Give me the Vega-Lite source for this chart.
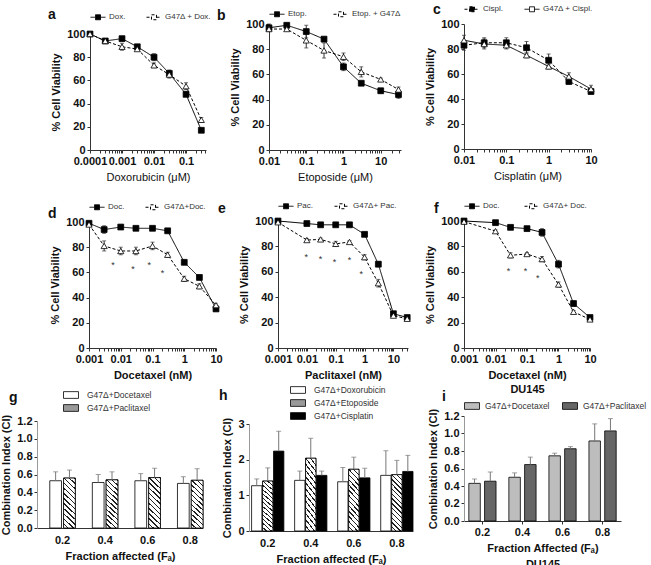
{
"$schema": "https://vega.github.io/schema/vega-lite/v6.json",
"padding": {"left": 0, "top": 0, "right": 0, "bottom": 0},
"config": {
  "font": "Liberation Sans",
  "view": {"stroke": "transparent"},
  "axis": {"grid": false, "labelFontSize": 11, "labelFontWeight": "bold", "labelColor": "#111", "titleFontSize": 11, "titleFontWeight": "bold", "titleColor": "#111", "tickSize": 3, "tickColor": "#333", "domainColor": "#333", "labelPadding": 2, "titlePadding": 5},
  "legend": {"labelFontSize": 8, "labelColor": "#333", "padding": 0, "rowPadding": 0, "labelLimit": 200},
  "title": {"anchor": "start", "frame": "group", "fontSize": 14, "fontWeight": "bold", "color": "#111"}
},
"datasets": {
  "a": [
    {"s":"Dox.","x":0.0001,"y":100,"e":0},{"s":"Dox.","x":0.0003,"y":94,"e":0},{"s":"Dox.","x":0.001,"y":96,"e":1},{"s":"Dox.","x":0.003,"y":89,"e":1},{"s":"Dox.","x":0.01,"y":80,"e":3},{"s":"Dox.","x":0.03,"y":66,"e":3},{"s":"Dox.","x":0.1,"y":48,"e":2},{"s":"Dox.","x":0.3,"y":17,"e":1},
    {"s":"G47Δ + Dox.","x":0.0001,"y":100,"e":0},{"s":"G47Δ + Dox.","x":0.0003,"y":94,"e":0},{"s":"G47Δ + Dox.","x":0.001,"y":89,"e":3},{"s":"G47Δ + Dox.","x":0.003,"y":87,"e":1},{"s":"G47Δ + Dox.","x":0.01,"y":73,"e":2},{"s":"G47Δ + Dox.","x":0.03,"y":65,"e":3},{"s":"G47Δ + Dox.","x":0.1,"y":55,"e":3},{"s":"G47Δ + Dox.","x":0.3,"y":26,"e":2}
  ],
  "b": [
    {"s":"Etop.","x":0.01,"y":97,"e":3},{"s":"Etop.","x":0.03,"y":99,"e":1},{"s":"Etop.","x":0.1,"y":94,"e":5},{"s":"Etop.","x":0.3,"y":88,"e":1},{"s":"Etop.","x":1,"y":66,"e":3},{"s":"Etop.","x":3,"y":53,"e":1},{"s":"Etop.","x":10,"y":47,"e":2},{"s":"Etop.","x":30,"y":44,"e":3},
    {"s":"Etop. + G47Δ","x":0.01,"y":96,"e":2},{"s":"Etop. + G47Δ","x":0.03,"y":96,"e":1},{"s":"Etop. + G47Δ","x":0.1,"y":87,"e":6},{"s":"Etop. + G47Δ","x":0.3,"y":79,"e":6},{"s":"Etop. + G47Δ","x":1,"y":74,"e":3},{"s":"Etop. + G47Δ","x":3,"y":62,"e":4},{"s":"Etop. + G47Δ","x":10,"y":56,"e":1},{"s":"Etop. + G47Δ","x":30,"y":48,"e":2}
  ],
  "c": [
    {"s":"Cispl.","x":0.01,"y":83,"e":4},{"s":"Cispl.","x":0.03,"y":85,"e":4},{"s":"Cispl.","x":0.1,"y":85,"e":4},{"s":"Cispl.","x":0.3,"y":81,"e":5},{"s":"Cispl.","x":1,"y":71,"e":5},{"s":"Cispl.","x":3,"y":54,"e":2},{"s":"Cispl.","x":10,"y":46,"e":2},
    {"s":"G47Δ + Cispl.","x":0.01,"y":87,"e":4},{"s":"G47Δ + Cispl.","x":0.03,"y":84,"e":4},{"s":"G47Δ + Cispl.","x":0.1,"y":83,"e":3},{"s":"G47Δ + Cispl.","x":0.3,"y":75,"e":2},{"s":"G47Δ + Cispl.","x":1,"y":66,"e":2},{"s":"G47Δ + Cispl.","x":3,"y":58,"e":3},{"s":"G47Δ + Cispl.","x":10,"y":48,"e":3}
  ],
  "d": [
    {"s":"Doc.","x":0.001,"y":99,"e":1},{"s":"Doc.","x":0.003,"y":94,"e":3},{"s":"Doc.","x":0.01,"y":96,"e":1},{"s":"Doc.","x":0.03,"y":95,"e":1},{"s":"Doc.","x":0.1,"y":95,"e":1},{"s":"Doc.","x":0.3,"y":93,"e":1},{"s":"Doc.","x":1,"y":68,"e":1},{"s":"Doc.","x":3,"y":56,"e":1},{"s":"Doc.","x":10,"y":31,"e":1},
    {"s":"G47Δ+Doc.","x":0.001,"y":98,"e":1},{"s":"G47Δ+Doc.","x":0.003,"y":81,"e":4},{"s":"G47Δ+Doc.","x":0.01,"y":77,"e":3},{"s":"G47Δ+Doc.","x":0.03,"y":77,"e":3},{"s":"G47Δ+Doc.","x":0.1,"y":81,"e":3},{"s":"G47Δ+Doc.","x":0.3,"y":74,"e":2},{"s":"G47Δ+Doc.","x":1,"y":55,"e":2},{"s":"G47Δ+Doc.","x":3,"y":49,"e":2},{"s":"G47Δ+Doc.","x":10,"y":34,"e":1}
  ],
  "dstar": [{"x":0.0057,"y":66},{"x":0.0245,"y":63},{"x":0.0785,"y":66},{"x":0.207,"y":59.5}],
  "e": [
    {"s":"Pac.","x":0.001,"y":100,"e":0},{"s":"Pac.","x":0.01,"y":98,"e":1},{"s":"Pac.","x":0.03,"y":97,"e":1},{"s":"Pac.","x":0.1,"y":97,"e":1},{"s":"Pac.","x":0.3,"y":97,"e":1},{"s":"Pac.","x":1,"y":89.5,"e":1},{"s":"Pac.","x":3,"y":66,"e":2},{"s":"Pac.","x":10,"y":27,"e":1},{"s":"Pac.","x":30,"y":24,"e":1},
    {"s":"G47Δ+ Pac.","x":0.001,"y":99,"e":0},{"s":"G47Δ+ Pac.","x":0.01,"y":85,"e":1},{"s":"G47Δ+ Pac.","x":0.03,"y":85.5,"e":1},{"s":"G47Δ+ Pac.","x":0.1,"y":82,"e":2},{"s":"G47Δ+ Pac.","x":0.3,"y":83.5,"e":1},{"s":"G47Δ+ Pac.","x":1,"y":71.5,"e":2},{"s":"G47Δ+ Pac.","x":3,"y":51,"e":3},{"s":"G47Δ+ Pac.","x":10,"y":25.5,"e":1},{"s":"G47Δ+ Pac.","x":30,"y":23,"e":1}
  ],
  "estar": [{"x":0.0095,"y":72},{"x":0.03,"y":70},{"x":0.091,"y":68},{"x":0.3,"y":69},{"x":0.76,"y":58}],
  "f": [
    {"s":"Doc.","x":0.001,"y":100,"e":0},{"s":"Doc.","x":0.01,"y":98.7,"e":1},{"s":"Doc.","x":0.03,"y":95,"e":1},{"s":"Doc.","x":0.1,"y":94,"e":1},{"s":"Doc.","x":0.3,"y":91,"e":3},{"s":"Doc.","x":1,"y":66,"e":3},{"s":"Doc.","x":3,"y":35,"e":2},{"s":"Doc.","x":10,"y":24,"e":1},
    {"s":"G47Δ+ Doc.","x":0.001,"y":99.5,"e":0},{"s":"G47Δ+ Doc.","x":0.01,"y":92,"e":1},{"s":"G47Δ+ Doc.","x":0.03,"y":73,"e":2},{"s":"G47Δ+ Doc.","x":0.1,"y":74,"e":1},{"s":"G47Δ+ Doc.","x":0.3,"y":70,"e":2},{"s":"G47Δ+ Doc.","x":1,"y":50,"e":2},{"s":"G47Δ+ Doc.","x":3,"y":28.5,"e":1},{"s":"G47Δ+ Doc.","x":10,"y":22.5,"e":1}
  ],
  "fstar": [{"x":0.026,"y":61},{"x":0.089,"y":61},{"x":0.22,"y":55}],
  "g": [
    {"f":"0.2","s":"G47Δ+Docetaxel","v":0.53,"u":0.63},{"f":"0.4","s":"G47Δ+Docetaxel","v":0.51,"u":0.6},{"f":"0.6","s":"G47Δ+Docetaxel","v":0.53,"u":0.61},{"f":"0.8","s":"G47Δ+Docetaxel","v":0.5,"u":0.575},
    {"f":"0.2","s":"G47Δ+Paclitaxel","v":0.56,"u":0.65},{"f":"0.4","s":"G47Δ+Paclitaxel","v":0.54,"u":0.63},{"f":"0.6","s":"G47Δ+Paclitaxel","v":0.565,"u":0.67},{"f":"0.8","s":"G47Δ+Paclitaxel","v":0.535,"u":0.665}
  ],
  "h": [
    {"f":"0.2","s":"G47Δ+Doxorubicin","v":1.27,"u":1.46},{"f":"0.4","s":"G47Δ+Doxorubicin","v":1.42,"u":1.68},{"f":"0.6","s":"G47Δ+Doxorubicin","v":1.38,"u":1.78},{"f":"0.8","s":"G47Δ+Doxorubicin","v":1.56,"u":2.25},
    {"f":"0.2","s":"G47Δ+Etoposide","v":1.4,"u":1.77},{"f":"0.4","s":"G47Δ+Etoposide","v":2.04,"u":2.6},{"f":"0.6","s":"G47Δ+Etoposide","v":1.73,"u":2.07},{"f":"0.8","s":"G47Δ+Etoposide","v":1.58,"u":1.98},
    {"f":"0.2","s":"G47Δ+Cisplatin","v":2.24,"u":2.8},{"f":"0.4","s":"G47Δ+Cisplatin","v":1.56,"u":1.68},{"f":"0.6","s":"G47Δ+Cisplatin","v":1.49,"u":1.76},{"f":"0.8","s":"G47Δ+Cisplatin","v":1.67,"u":2.12}
  ],
  "i": [
    {"f":"0.2","s":"G47Δ+Docetaxel","v":0.43,"u":0.48},{"f":"0.4","s":"G47Δ+Docetaxel","v":0.5,"u":0.55},{"f":"0.6","s":"G47Δ+Docetaxel","v":0.745,"u":0.775},{"f":"0.8","s":"G47Δ+Docetaxel","v":0.915,"u":1.11},
    {"f":"0.2","s":"G47Δ+Paclitaxel","v":0.455,"u":0.56},{"f":"0.4","s":"G47Δ+Paclitaxel","v":0.645,"u":0.73},{"f":"0.6","s":"G47Δ+Paclitaxel","v":0.826,"u":0.85},{"f":"0.8","s":"G47Δ+Paclitaxel","v":1.03,"u":1.17}
  ]
},
"spacing": -14,
"resolve": {"scale": {"strokeDash": "independent", "fill": "independent", "xOffset": "independent"}, "legend": {"strokeDash": "independent", "fill": "independent"}},
"vconcat": [
 {"bounds": "flush", "spacing": 0,
  "resolve": {"scale": {"strokeDash": "independent"}, "legend": {"strokeDash": "independent"}},
  "hconcat": [
  {"width": 53, "height": 1, "data": {"values": []}, "mark": {"type": "point", "opacity": 0}, "encoding": {}},
  {"title": {"text": "a", "offset": -13, "dx": -42},
   "width": 116, "height": 126, "data": {"name": "a"},
   "encoding": {
     "x": {"field": "x", "type": "quantitative", "scale": {"type": "log", "domain": [0.0001, 0.42], "nice": false},
       "axis": {"values": [0.0001,0.0002,0.0003,0.0004,0.0005,0.0006,0.0007,0.0008,0.0009,0.001,0.002,0.003,0.004,0.005,0.006,0.007,0.008,0.009,0.01,0.02,0.03,0.04,0.05,0.06,0.07,0.08,0.09,0.1,0.2,0.3,0.4], "format": "~g", "labelExpr": "indexof([0.0001,0.001,0.01,0.1,1,10], datum.value) >= 0 ? datum.label : ''", "labelOverlap": false, "labelFlush": false, "title": "Doxorubicin (μM)", "titleFontWeight": "normal"}},
     "y": {"field": "y", "type": "quantitative", "scale": {"domain": [0, 100], "nice": false, "range": [126, 10]}, "axis": {"values": [0,20,40,60,80,100], "title": "% Cell Viability"}}
   },
   "layer": [
     {"mark": {"type": "line", "color": "black", "strokeWidth": 1},
      "encoding": {"strokeDash": {"field": "s", "type": "nominal", "scale": {"domain": ["Dox.", "G47Δ + Dox."], "range": [[1, 0], [3, 2]]},
        "legend": {"orient": "top", "direction": "horizontal", "title": null, "offset": 2, "symbolType": "M-1,0H-0.33M0.33,0H1M-0.33,-0.33H0.33V0.33H-0.33Z", "symbolSize": 225, "symbolStrokeColor": "black", "symbolStrokeWidth": 1, "labelOffset": 3, "columnPadding": 18,
          "encode": {"symbols": {"update": {"fill": {"signal": "datum.index === 0 ? 'black' : 'white'"}, "stroke": {"value": "black"}, "strokeWidth": {"value": 1}, "strokeDash": {"signal": "datum.index === 0 ? [1, 0] : [2, 1.5]"}, "opacity": {"value": 1}}}}}}}},
     {"transform": [{"filter": "datum.e > 0"}], "mark": {"type": "errorbar", "color": "#333", "ticks": {"size": 4}}, "encoding": {"yError": {"field": "e"}}},
     {"transform": [{"filter": {"field": "s", "equal": "Dox."}}], "mark": {"type": "point", "shape": "square", "filled": true, "fill": "black", "stroke": "black", "strokeWidth": 0.8, "opacity": 1, "size": 34}},
     {"transform": [{"filter": {"field": "s", "equal": "G47Δ + Dox."}}], "mark": {"type": "point", "shape": "triangle-up", "filled": true, "fill": "white", "stroke": "black", "strokeWidth": 0.8, "opacity": 1, "size": 38}}
   ]},
  {"width": 63, "height": 1, "data": {"values": []}, "mark": {"type": "point", "opacity": 0}, "encoding": {}},
  {"title": {"text": "b", "offset": -17, "dx": -52},
   "width": 132, "height": 126, "data": {"name": "b"},
   "encoding": {
     "x": {"field": "x", "type": "quantitative", "scale": {"type": "log", "domain": [0.01, 35], "nice": false},
       "axis": {"values": [0.01,0.02,0.03,0.04,0.05,0.06,0.07,0.08,0.09,0.1,0.2,0.3,0.4,0.5,0.6,0.7,0.8,0.9,1,2,3,4,5,6,7,8,9,10,20,30], "format": "~g", "labelExpr": "indexof([0.0001,0.001,0.01,0.1,1,10], datum.value) >= 0 ? datum.label : ''", "labelOverlap": false, "labelFlush": false, "title": "Etoposide (μM)", "titleFontWeight": "normal"}},
     "y": {"field": "y", "type": "quantitative", "scale": {"domain": [0, 100], "nice": false}, "axis": {"values": [0,20,40,60,80,100], "title": "% Cell Viability"}}
   },
   "layer": [
     {"mark": {"type": "line", "color": "black", "strokeWidth": 1},
      "encoding": {"strokeDash": {"field": "s", "type": "nominal", "scale": {"domain": ["Etop.", "Etop. + G47Δ"], "range": [[1, 0], [3, 2]]},
        "legend": {"orient": "top", "direction": "horizontal", "title": null, "offset": 4, "symbolType": "M-1,0H-0.33M0.33,0H1M-0.33,-0.33H0.33V0.33H-0.33Z", "symbolSize": 225, "symbolStrokeColor": "black", "symbolStrokeWidth": 1, "labelOffset": 3, "columnPadding": 24,
          "encode": {"symbols": {"update": {"fill": {"signal": "datum.index === 0 ? 'black' : 'white'"}, "stroke": {"value": "black"}, "strokeWidth": {"value": 1}, "strokeDash": {"signal": "datum.index === 0 ? [1, 0] : [2, 1.5]"}, "opacity": {"value": 1}}}}}}}},
     {"transform": [{"filter": "datum.e > 0"}], "mark": {"type": "errorbar", "color": "#333", "ticks": {"size": 4}}, "encoding": {"yError": {"field": "e"}}},
     {"transform": [{"filter": {"field": "s", "equal": "Etop."}}], "mark": {"type": "point", "shape": "square", "filled": true, "fill": "black", "stroke": "black", "strokeWidth": 0.8, "opacity": 1, "size": 34}},
     {"transform": [{"filter": {"field": "s", "equal": "Etop. + G47Δ"}}], "mark": {"type": "point", "shape": "triangle-up", "filled": true, "fill": "white", "stroke": "black", "strokeWidth": 0.8, "opacity": 1, "size": 38}}
   ]},
  {"width": 63, "height": 1, "data": {"values": []}, "mark": {"type": "point", "opacity": 0}, "encoding": {}},
  {"title": {"text": "c", "offset": -16, "dx": -31},
   "width": 127, "height": 125, "data": {"name": "c"},
   "encoding": {
     "x": {"field": "x", "type": "quantitative", "scale": {"type": "log", "domain": [0.01, 10], "nice": false},
       "axis": {"values": [0.01,0.02,0.03,0.04,0.05,0.06,0.07,0.08,0.09,0.1,0.2,0.3,0.4,0.5,0.6,0.7,0.8,0.9,1,2,3,4,5,6,7,8,9,10], "format": "~g", "labelExpr": "indexof([0.0001,0.001,0.01,0.1,1,10], datum.value) >= 0 ? datum.label : ''", "labelOverlap": false, "labelFlush": false, "title": "Cisplatin (μM)", "titleFontWeight": "normal"}},
     "y": {"field": "y", "type": "quantitative", "scale": {"domain": [0, 100], "nice": false}, "axis": {"values": [0,20,40,60,80,100], "title": "% Cell Viability"}}
   },
   "layer": [
     {"mark": {"type": "line", "color": "black", "strokeWidth": 1},
      "encoding": {"strokeDash": {"field": "s", "type": "nominal", "scale": {"domain": ["Cispl.", "G47Δ + Cispl."], "range": [[3, 2], [1, 0]]},
        "legend": {"orient": "top", "direction": "horizontal", "title": null, "offset": 10, "symbolType": "M-1,0H-0.33M0.33,0H1M-0.33,-0.33H0.33V0.33H-0.33Z", "symbolSize": 225, "symbolStrokeColor": "black", "symbolStrokeWidth": 1, "labelOffset": 3, "columnPadding": 18,
          "encode": {"symbols": {"update": {"fill": {"signal": "datum.index === 0 ? 'black' : 'white'"}, "stroke": {"value": "black"}, "strokeWidth": {"value": 1}, "strokeDash": {"signal": "datum.index === 0 ? [2, 1.5] : [1, 0]"}, "opacity": {"value": 1}}}}}}}},
     {"transform": [{"filter": "datum.e > 0"}], "mark": {"type": "errorbar", "color": "#333", "ticks": {"size": 4}}, "encoding": {"yError": {"field": "e"}}},
     {"transform": [{"filter": {"field": "s", "equal": "Cispl."}}], "mark": {"type": "point", "shape": "square", "filled": true, "fill": "black", "stroke": "black", "strokeWidth": 0.8, "opacity": 1, "size": 34}},
     {"transform": [{"filter": {"field": "s", "equal": "G47Δ + Cispl."}}], "mark": {"type": "point", "shape": "triangle-up", "filled": true, "fill": "white", "stroke": "black", "strokeWidth": 0.8, "opacity": 1, "size": 38}}
   ]}
 ]},
 {"width": 1, "height": 28, "data": {"values": []}, "mark": {"type": "point", "opacity": 0}, "encoding": {}},
 {"bounds": "flush", "spacing": 0,
  "resolve": {"scale": {"strokeDash": "independent"}, "legend": {"strokeDash": "independent"}},
  "hconcat": [
  {"width": 52, "height": 1, "data": {"values": []}, "mark": {"type": "point", "opacity": 0}, "encoding": {}},
  {"title": {"text": "d", "offset": -22, "dx": -41},
   "width": 127, "height": 127, "data": {"name": "d"},
   "encoding": {
     "x": {"field": "x", "type": "quantitative", "scale": {"type": "log", "domain": [0.001, 10], "nice": false},
       "axis": {"values": [0.001,0.002,0.003,0.004,0.005,0.006,0.007,0.008,0.009,0.01,0.02,0.03,0.04,0.05,0.06,0.07,0.08,0.09,0.1,0.2,0.3,0.4,0.5,0.6,0.7,0.8,0.9,1,2,3,4,5,6,7,8,9,10], "format": "~g", "labelExpr": "indexof([0.0001,0.001,0.01,0.1,1,10], datum.value) >= 0 ? datum.label : ''", "labelOverlap": false, "labelFlush": false, "title": "Docetaxel (nM)"}},
     "y": {"field": "y", "type": "quantitative", "scale": {"domain": [0, 100], "nice": false, "range": [127, 1]}, "axis": {"values": [0,20,40,60,80,100], "title": "% Cell Viability"}}
   },
   "layer": [
     {"mark": {"type": "line", "color": "black", "strokeWidth": 1},
      "encoding": {"strokeDash": {"field": "s", "type": "nominal", "scale": {"domain": ["Doc.", "G47Δ+Doc."], "range": [[1, 0], [3, 2]]},
        "legend": {"orient": "top", "direction": "horizontal", "title": null, "offset": 9, "symbolType": "M-1,0H-0.33M0.33,0H1M-0.33,-0.33H0.33V0.33H-0.33Z", "symbolSize": 225, "symbolStrokeColor": "black", "symbolStrokeWidth": 1, "labelOffset": 3, "columnPadding": 18,
          "encode": {"symbols": {"update": {"fill": {"signal": "datum.index === 0 ? 'black' : 'white'"}, "stroke": {"value": "black"}, "strokeWidth": {"value": 1}, "strokeDash": {"signal": "datum.index === 0 ? [1, 0] : [2, 1.5]"}, "opacity": {"value": 1}}}}}}}},
     {"transform": [{"filter": "datum.e > 0"}], "mark": {"type": "errorbar", "color": "#333", "ticks": {"size": 4}}, "encoding": {"yError": {"field": "e"}}},
     {"transform": [{"filter": {"field": "s", "equal": "Doc."}}], "mark": {"type": "point", "shape": "square", "filled": true, "fill": "black", "stroke": "black", "strokeWidth": 0.8, "opacity": 1, "size": 34}},
     {"transform": [{"filter": {"field": "s", "equal": "G47Δ+Doc."}}], "mark": {"type": "point", "shape": "triangle-up", "filled": true, "fill": "white", "stroke": "black", "strokeWidth": 0.8, "opacity": 1, "size": 38}},
     {"data": {"name": "dstar"}, "mark": {"type": "text", "text": "*", "fontSize": 9, "color": "#333"}, "encoding": {}}
   ]},
  {"width": 62, "height": 1, "data": {"values": []}, "mark": {"type": "point", "opacity": 0}, "encoding": {}},
  {"title": {"text": "e", "offset": -18, "dx": -60},
   "width": 130, "height": 127, "data": {"name": "e"},
   "encoding": {
     "x": {"field": "x", "type": "quantitative", "scale": {"type": "log", "domain": [0.001, 32], "nice": false},
       "axis": {"values": [0.001,0.002,0.003,0.004,0.005,0.006,0.007,0.008,0.009,0.01,0.02,0.03,0.04,0.05,0.06,0.07,0.08,0.09,0.1,0.2,0.3,0.4,0.5,0.6,0.7,0.8,0.9,1,2,3,4,5,6,7,8,9,10,20,30], "format": "~g", "labelExpr": "indexof([0.0001,0.001,0.01,0.1,1,10], datum.value) >= 0 ? datum.label : ''", "labelOverlap": false, "labelFlush": false, "title": "Paclitaxel (nM)"}},
     "y": {"field": "y", "type": "quantitative", "scale": {"domain": [0, 100], "nice": false}, "axis": {"values": [0,20,40,60,80,100], "title": "% Cell Viability"}}
   },
   "layer": [
     {"mark": {"type": "line", "color": "black", "strokeWidth": 1},
      "encoding": {"strokeDash": {"field": "s", "type": "nominal", "scale": {"domain": ["Pac.", "G47Δ+ Pac."], "range": [[1, 0], [3, 2]]},
        "legend": {"orient": "top", "direction": "horizontal", "title": null, "offset": 8, "symbolType": "M-1,0H-0.33M0.33,0H1M-0.33,-0.33H0.33V0.33H-0.33Z", "symbolSize": 225, "symbolStrokeColor": "black", "symbolStrokeWidth": 1, "labelOffset": 3, "columnPadding": 18,
          "encode": {"symbols": {"update": {"fill": {"signal": "datum.index === 0 ? 'black' : 'white'"}, "stroke": {"value": "black"}, "strokeWidth": {"value": 1}, "strokeDash": {"signal": "datum.index === 0 ? [1, 0] : [2, 1.5]"}, "opacity": {"value": 1}}}}}}}},
     {"transform": [{"filter": "datum.e > 0"}], "mark": {"type": "errorbar", "color": "#333", "ticks": {"size": 4}}, "encoding": {"yError": {"field": "e"}}},
     {"transform": [{"filter": {"field": "s", "equal": "Pac."}}], "mark": {"type": "point", "shape": "square", "filled": true, "fill": "black", "stroke": "black", "strokeWidth": 0.8, "opacity": 1, "size": 34}},
     {"transform": [{"filter": {"field": "s", "equal": "G47Δ+ Pac."}}], "mark": {"type": "point", "shape": "triangle-up", "filled": true, "fill": "white", "stroke": "black", "strokeWidth": 0.8, "opacity": 1, "size": 38}},
     {"data": {"name": "estar"}, "mark": {"type": "text", "text": "*", "fontSize": 9, "color": "#333"}, "encoding": {}}
   ]},
  {"width": 56, "height": 1, "data": {"values": []}, "mark": {"type": "point", "opacity": 0}, "encoding": {}},
  {"title": {"text": "f", "offset": -18, "dx": -30},
   "width": 126, "height": 127, "data": {"name": "f"},
   "encoding": {
     "x": {"field": "x", "type": "quantitative", "scale": {"type": "log", "domain": [0.001, 10], "nice": false},
       "axis": {"values": [0.001,0.002,0.003,0.004,0.005,0.006,0.007,0.008,0.009,0.01,0.02,0.03,0.04,0.05,0.06,0.07,0.08,0.09,0.1,0.2,0.3,0.4,0.5,0.6,0.7,0.8,0.9,1,2,3,4,5,6,7,8,9,10], "format": "~g", "labelExpr": "indexof([0.0001,0.001,0.01,0.1,1,10], datum.value) >= 0 ? datum.label : ''", "labelOverlap": false, "labelFlush": false, "title": ["Docetaxel (nM)", "DU145"], "titleLineHeight": 14}},
     "y": {"field": "y", "type": "quantitative", "scale": {"domain": [0, 100], "nice": false}, "axis": {"values": [0,20,40,60,80,100], "title": "% Cell Viability"}}
   },
   "layer": [
     {"mark": {"type": "line", "color": "black", "strokeWidth": 1},
      "encoding": {"strokeDash": {"field": "s", "type": "nominal", "scale": {"domain": ["Doc.", "G47Δ+ Doc."], "range": [[1, 0], [3, 2]]},
        "legend": {"orient": "top", "direction": "horizontal", "title": null, "offset": 8, "symbolType": "M-1,0H-0.33M0.33,0H1M-0.33,-0.33H0.33V0.33H-0.33Z", "symbolSize": 225, "symbolStrokeColor": "black", "symbolStrokeWidth": 1, "labelOffset": 3, "columnPadding": 22,
          "encode": {"symbols": {"update": {"fill": {"signal": "datum.index === 0 ? 'black' : 'white'"}, "stroke": {"value": "black"}, "strokeWidth": {"value": 1}, "strokeDash": {"signal": "datum.index === 0 ? [1, 0] : [2, 1.5]"}, "opacity": {"value": 1}}}}}}}},
     {"transform": [{"filter": "datum.e > 0"}], "mark": {"type": "errorbar", "color": "#333", "ticks": {"size": 4}}, "encoding": {"yError": {"field": "e"}}},
     {"transform": [{"filter": {"field": "s", "equal": "Doc."}}], "mark": {"type": "point", "shape": "square", "filled": true, "fill": "black", "stroke": "black", "strokeWidth": 0.8, "opacity": 1, "size": 34}},
     {"transform": [{"filter": {"field": "s", "equal": "G47Δ+ Doc."}}], "mark": {"type": "point", "shape": "triangle-up", "filled": true, "fill": "white", "stroke": "black", "strokeWidth": 0.8, "opacity": 1, "size": 38}},
     {"data": {"name": "fstar"}, "mark": {"type": "text", "text": "*", "fontSize": 9, "color": "#333"}, "encoding": {}}
   ]}
 ]},
 {"bounds": "flush", "spacing": 0,
  "resolve": {"scale": {"fill": "independent", "xOffset": "independent"}, "legend": {"fill": "independent"}},
  "hconcat": [
  {"title": {"text": "g", "offset": -18, "dx": -28},
   "width": 166, "height": 112, "data": {"name": "g"},
   "encoding": {
     "x": {"field": "f", "type": "nominal", "scale": {"paddingInner": 0.4, "paddingOuter": 0.15, "align": 1}, "axis": {"title": "Fraction affected (Fₐ)", "labelAngle": 0, "ticks": false, "labelPadding": 6}},
     "xOffset": {"field": "s", "type": "nominal", "scale": {"domain": ["G47Δ+Docetaxel", "G47Δ+Paclitaxel"], "paddingInner": 0.15}}
   },
   "layer": [
     {"mark": {"type": "bar", "stroke": "black", "strokeWidth": 0.8},
      "encoding": {
        "y": {"field": "v", "type": "quantitative", "scale": {"domain": [0, 1.2], "nice": false, "range": [112, 5]}, "axis": {"values": [0,0.2,0.4,0.6,0.8,1,1.2], "format": ".1f", "title": "Combination Index (CI)", "domainColor": "#999"}},
        "fill": {"field": "s", "type": "nominal", "scale": {"domain": ["G47Δ+Docetaxel", "G47Δ+Paclitaxel"], "range": ["white", "#999"]},
          "legend": {"orient": "top", "direction": "vertical", "title": " ", "titleOrient": "left", "titlePadding": 26, "offset": 3, "symbolType": "M-1,-0.45H1V0.45H-1Z", "symbolSize": 225, "symbolStrokeColor": "black", "symbolStrokeWidth": 0.8, "labelFontSize": 8.5, "labelOffset": 8,
            "encode": {"symbols": {"update": {"stroke": {"value": "black"}, "strokeWidth": {"value": 0.8}, "opacity": {"value": 1}, "fill": {"signal": "datum.index === 1 ? {gradient: 'linear', x1: 0, y1: 1, x2: 1.2, y2: 0.44, stops: [{offset: 0, color: 'white'}, {offset: 0.14, color: 'white'}, {offset: 0.14, color: '#222'}, {offset: 0.2, color: '#222'}, {offset: 0.2, color: 'white'}, {offset: 0.34, color: 'white'}, {offset: 0.34, color: '#222'}, {offset: 0.4, color: '#222'}, {offset: 0.4, color: 'white'}, {offset: 0.54, color: 'white'}, {offset: 0.54, color: '#222'}, {offset: 0.6, color: '#222'}, {offset: 0.6, color: 'white'}, {offset: 0.74, color: 'white'}, {offset: 0.74, color: '#222'}, {offset: 0.8, color: '#222'}, {offset: 0.8, color: 'white'}, {offset: 0.94, color: 'white'}, {offset: 0.94, color: '#222'}, {offset: 1, color: '#222'}]} : 'white'"}}}}}}
      }},
     {"transform": [{"filter": {"field": "s", "equal": "G47Δ+Paclitaxel"}}],
      "mark": {"type": "bar", "stroke": "black", "strokeWidth": 0.8, "fill": {"gradient": "linear", "x1": 0, "y1": 1, "x2": 0.262, "y2": -0.166, "stops": [
        {"offset":0,"color":"white"},{"offset":0.06,"color":"white"},{"offset":0.06,"color":"#222"},{"offset":0.0833,"color":"#222"},
        {"offset":0.0833,"color":"white"},{"offset":0.1433,"color":"white"},{"offset":0.1433,"color":"#222"},{"offset":0.1667,"color":"#222"},
        {"offset":0.1667,"color":"white"},{"offset":0.2267,"color":"white"},{"offset":0.2267,"color":"#222"},{"offset":0.25,"color":"#222"},
        {"offset":0.25,"color":"white"},{"offset":0.31,"color":"white"},{"offset":0.31,"color":"#222"},{"offset":0.3333,"color":"#222"},
        {"offset":0.3333,"color":"white"},{"offset":0.3933,"color":"white"},{"offset":0.3933,"color":"#222"},{"offset":0.4167,"color":"#222"},
        {"offset":0.4167,"color":"white"},{"offset":0.4767,"color":"white"},{"offset":0.4767,"color":"#222"},{"offset":0.5,"color":"#222"},
        {"offset":0.5,"color":"white"},{"offset":0.56,"color":"white"},{"offset":0.56,"color":"#222"},{"offset":0.5833,"color":"#222"},
        {"offset":0.5833,"color":"white"},{"offset":0.6433,"color":"white"},{"offset":0.6433,"color":"#222"},{"offset":0.6667,"color":"#222"},
        {"offset":0.6667,"color":"white"},{"offset":0.7267,"color":"white"},{"offset":0.7267,"color":"#222"},{"offset":0.75,"color":"#222"},
        {"offset":0.75,"color":"white"},{"offset":0.81,"color":"white"},{"offset":0.81,"color":"#222"},{"offset":0.8333,"color":"#222"},
        {"offset":0.8333,"color":"white"},{"offset":0.8933,"color":"white"},{"offset":0.8933,"color":"#222"},{"offset":0.9167,"color":"#222"},
        {"offset":0.9167,"color":"white"},{"offset":0.9767,"color":"white"},{"offset":0.9767,"color":"#222"},{"offset":1,"color":"#222"}]}},
      "encoding": {"y": {"field": "v", "type": "quantitative", "scale": {"domain": [0, 1.2], "nice": false, "range": [112, 5]}, "axis": {"values": [0,0.2,0.4,0.6,0.8,1,1.2], "format": ".1f", "title": "Combination Index (CI)", "domainColor": "#999"}}}},
     {"mark": {"type": "rule", "color": "#777", "strokeWidth": 1},
      "encoding": {"y": {"field": "v", "type": "quantitative", "scale": {"domain": [0, 1.2], "nice": false, "range": [112, 5]}, "axis": {"values": [0,0.2,0.4,0.6,0.8,1,1.2], "format": ".1f", "title": "Combination Index (CI)", "domainColor": "#999"}}, "y2": {"field": "u"}}},
     {"mark": {"type": "tick", "color": "#777", "size": 5, "thickness": 1, "orient": "horizontal"},
      "encoding": {"y": {"field": "u", "type": "quantitative", "scale": {"domain": [0, 1.2], "nice": false, "range": [112, 5]}, "axis": {"values": [0,0.2,0.4,0.6,0.8,1,1.2], "format": ".1f", "title": "Combination Index (CI)", "domainColor": "#999"}}}}
   ]},
  {"width": 46, "height": 1, "data": {"values": []}, "mark": {"type": "point", "opacity": 0}, "encoding": {}},
  {"title": {"text": "h", "offset": -21, "dx": -30},
   "width": 164, "height": 115, "data": {"name": "h"},
   "encoding": {
     "x": {"field": "f", "type": "nominal", "scale": {"paddingInner": 0.25, "paddingOuter": 0.03, "align": 1}, "axis": {"title": "Fraction affected (Fₐ)", "labelAngle": 0, "ticks": false, "labelPadding": 6}},
     "xOffset": {"field": "s", "type": "nominal", "scale": {"domain": ["G47Δ+Doxorubicin", "G47Δ+Etoposide", "G47Δ+Cisplatin"], "paddingInner": 0.06}}
   },
   "layer": [
     {"mark": {"type": "bar", "stroke": "black", "strokeWidth": 0.8},
      "encoding": {
        "y": {"field": "v", "type": "quantitative", "scale": {"domain": [0, 3], "nice": false, "range": [115, 8]}, "axis": {"values": [0,1,2,3], "format": "d", "title": "Combination Index (CI)", "domainColor": "#999"}},
        "fill": {"field": "s", "type": "nominal", "scale": {"domain": ["G47Δ+Doxorubicin", "G47Δ+Etoposide", "G47Δ+Cisplatin"], "range": ["white", "#999", "black"]},
          "legend": {"orient": "top", "direction": "vertical", "title": " ", "titleOrient": "left", "titlePadding": 41, "offset": -5, "symbolType": "M-1,-0.45H1V0.45H-1Z", "symbolSize": 225, "symbolStrokeColor": "black", "symbolStrokeWidth": 0.8, "labelFontSize": 8.5, "labelOffset": 8,
            "encode": {"symbols": {"update": {"stroke": {"value": "black"}, "strokeWidth": {"value": 0.8}, "opacity": {"value": 1}, "fill": {"signal": "datum.index === 1 ? {gradient: 'linear', x1: 0, y1: 1, x2: 1.2, y2: 0.44, stops: [{offset: 0, color: 'white'}, {offset: 0.14, color: 'white'}, {offset: 0.14, color: '#222'}, {offset: 0.2, color: '#222'}, {offset: 0.2, color: 'white'}, {offset: 0.34, color: 'white'}, {offset: 0.34, color: '#222'}, {offset: 0.4, color: '#222'}, {offset: 0.4, color: 'white'}, {offset: 0.54, color: 'white'}, {offset: 0.54, color: '#222'}, {offset: 0.6, color: '#222'}, {offset: 0.6, color: 'white'}, {offset: 0.74, color: 'white'}, {offset: 0.74, color: '#222'}, {offset: 0.8, color: '#222'}, {offset: 0.8, color: 'white'}, {offset: 0.94, color: 'white'}, {offset: 0.94, color: '#222'}, {offset: 1, color: '#222'}]} : (datum.index === 2 ? 'black' : 'white')"}}}}}}
      }},
     {"transform": [{"filter": {"field": "s", "equal": "G47Δ+Etoposide"}}],
      "mark": {"type": "bar", "stroke": "black", "strokeWidth": 0.8, "fill": {"gradient": "linear", "x1": 0, "y1": 1, "x2": 0.21, "y2": -0.145, "stops": [
        {"offset":0,"color":"white"},{"offset":0.0514,"color":"white"},{"offset":0.0514,"color":"#222"},{"offset":0.0714,"color":"#222"},
        {"offset":0.0714,"color":"white"},{"offset":0.1229,"color":"white"},{"offset":0.1229,"color":"#222"},{"offset":0.1429,"color":"#222"},
        {"offset":0.1429,"color":"white"},{"offset":0.1943,"color":"white"},{"offset":0.1943,"color":"#222"},{"offset":0.2143,"color":"#222"},
        {"offset":0.2143,"color":"white"},{"offset":0.2657,"color":"white"},{"offset":0.2657,"color":"#222"},{"offset":0.2857,"color":"#222"},
        {"offset":0.2857,"color":"white"},{"offset":0.3371,"color":"white"},{"offset":0.3371,"color":"#222"},{"offset":0.3571,"color":"#222"},
        {"offset":0.3571,"color":"white"},{"offset":0.4086,"color":"white"},{"offset":0.4086,"color":"#222"},{"offset":0.4286,"color":"#222"},
        {"offset":0.4286,"color":"white"},{"offset":0.48,"color":"white"},{"offset":0.48,"color":"#222"},{"offset":0.5,"color":"#222"},
        {"offset":0.5,"color":"white"},{"offset":0.5514,"color":"white"},{"offset":0.5514,"color":"#222"},{"offset":0.5714,"color":"#222"},
        {"offset":0.5714,"color":"white"},{"offset":0.6229,"color":"white"},{"offset":0.6229,"color":"#222"},{"offset":0.6429,"color":"#222"},
        {"offset":0.6429,"color":"white"},{"offset":0.6943,"color":"white"},{"offset":0.6943,"color":"#222"},{"offset":0.7143,"color":"#222"},
        {"offset":0.7143,"color":"white"},{"offset":0.7657,"color":"white"},{"offset":0.7657,"color":"#222"},{"offset":0.7857,"color":"#222"},
        {"offset":0.7857,"color":"white"},{"offset":0.8371,"color":"white"},{"offset":0.8371,"color":"#222"},{"offset":0.8571,"color":"#222"},
        {"offset":0.8571,"color":"white"},{"offset":0.9086,"color":"white"},{"offset":0.9086,"color":"#222"},{"offset":0.9286,"color":"#222"},
        {"offset":0.9286,"color":"white"},{"offset":0.98,"color":"white"},{"offset":0.98,"color":"#222"},{"offset":1,"color":"#222"}]}},
      "encoding": {"y": {"field": "v", "type": "quantitative", "scale": {"domain": [0, 3], "nice": false, "range": [115, 8]}, "axis": {"values": [0,1,2,3], "format": "d", "title": "Combination Index (CI)", "domainColor": "#999"}}}},
     {"mark": {"type": "rule", "color": "#777", "strokeWidth": 1},
      "encoding": {"y": {"field": "v", "type": "quantitative", "scale": {"domain": [0, 3], "nice": false, "range": [115, 8]}, "axis": {"values": [0,1,2,3], "format": "d", "title": "Combination Index (CI)", "domainColor": "#999"}}, "y2": {"field": "u"}}},
     {"mark": {"type": "tick", "color": "#777", "size": 5, "thickness": 1, "orient": "horizontal"},
      "encoding": {"y": {"field": "u", "type": "quantitative", "scale": {"domain": [0, 3], "nice": false, "range": [115, 8]}, "axis": {"values": [0,1,2,3], "format": "d", "title": "Combination Index (CI)", "domainColor": "#999"}}}}
   ]},
  {"width": 51, "height": 1, "data": {"values": []}, "mark": {"type": "point", "opacity": 0}, "encoding": {}},
  {"title": {"text": "i", "offset": -6, "dx": -22},
   "width": 157, "height": 105, "data": {"name": "i"},
   "encoding": {
     "x": {"field": "f", "type": "nominal", "scale": {"paddingInner": 0.32, "paddingOuter": 0.12}, "axis": {"title": ["Fraction Affected (Fₐ)", "DU145"], "titleLineHeight": 16, "labelAngle": 0, "tickSize": 3, "labelPadding": 2}},
     "xOffset": {"field": "s", "type": "nominal", "scale": {"domain": ["G47Δ+Docetaxel", "G47Δ+Paclitaxel"], "paddingInner": 0.27}}
   },
   "layer": [
     {"mark": {"type": "bar", "stroke": "black", "strokeWidth": 0.8},
      "encoding": {
        "y": {"field": "v", "type": "quantitative", "scale": {"domain": [0, 1.2], "nice": false}, "axis": {"values": [0,0.2,0.4,0.6,0.8,1,1.2], "format": ".1f", "title": "Combination Index (CI)", "domainColor": "#999"}},
        "fill": {"field": "s", "type": "nominal", "scale": {"domain": ["G47Δ+Docetaxel", "G47Δ+Paclitaxel"], "range": ["#bdbdbd", "#666"]},
          "legend": {"orient": "top", "direction": "horizontal", "title": null, "offset": 5, "symbolType": "M-1,-0.45H1V0.45H-1Z", "symbolSize": 225, "symbolStrokeColor": "black", "symbolStrokeWidth": 0.8, "labelFontSize": 8.5, "labelOffset": 5, "columnPadding": 10}}
      }},
     {"mark": {"type": "rule", "color": "#777", "strokeWidth": 1},
      "encoding": {"y": {"field": "v", "type": "quantitative", "scale": {"domain": [0, 1.2], "nice": false}, "axis": {"values": [0,0.2,0.4,0.6,0.8,1,1.2], "format": ".1f", "title": "Combination Index (CI)", "domainColor": "#999"}}, "y2": {"field": "u"}}},
     {"mark": {"type": "tick", "color": "#777", "size": 5, "thickness": 1, "orient": "horizontal"},
      "encoding": {"y": {"field": "u", "type": "quantitative", "scale": {"domain": [0, 1.2], "nice": false}, "axis": {"values": [0,0.2,0.4,0.6,0.8,1,1.2], "format": ".1f", "title": "Combination Index (CI)", "domainColor": "#999"}}}}
   ]}
 ]}
]
}
